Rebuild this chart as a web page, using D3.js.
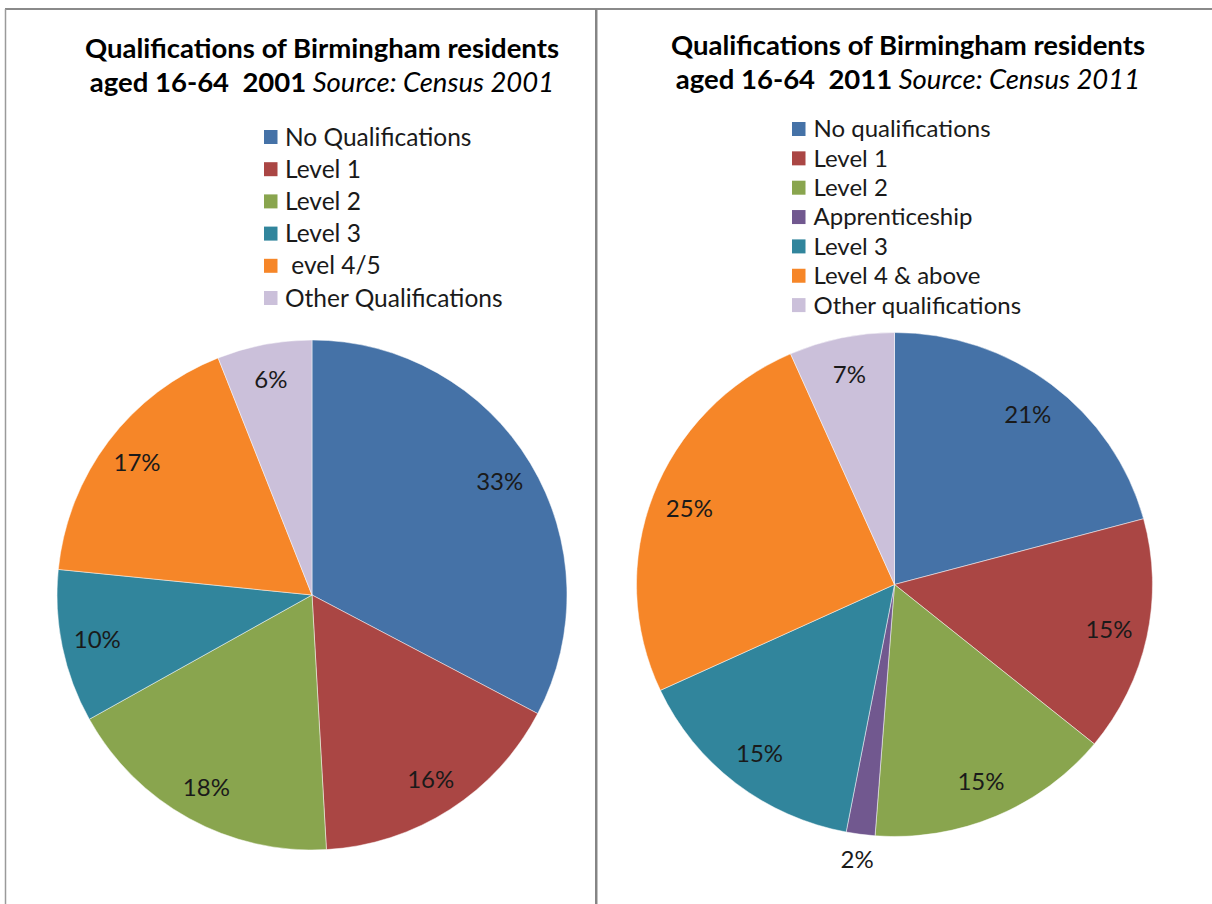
<!DOCTYPE html>
<html>
<head>
<meta charset="utf-8">
<script src="https://cdn.jsdelivr.net/npm/d3@7"></script>
<style>
  html, body { margin: 0; padding: 0; background: #fff; }
  svg { display: block; }
  text { font-family: Lato, "Noto Sans", sans-serif; }
</style>
</head>
<body>
<svg id="chart" width="1212" height="904"></svg>
<script>
// ---- Data ----
const categories2001 = ["No Qualifications", "Level 1", "Level 2", "Level 3", " evel 4/5", "Other Qualifications"];
const values2001 = [32.7, 16.4, 17.8, 9.7, 17.4, 6.0];
const colors2001 = ["#4572A7", "#AA4644", "#89A54E", "#31859C", "#F68628", "#CBC0DA"];

const categories2011 = ["No qualifications", "Level 1", "Level 2", "Apprenticeship", "Level 3", "Level 4 & above", "Other qualifications"];
const values2011 = [20.8, 15.1, 15.3, 1.8, 15.1, 25.3, 6.6];
const colors2011 = ["#4572A7", "#AA4644", "#89A54E", "#71588F", "#31859C", "#F68628", "#CBC0DA"];

const titleLine1 = "Qualifications of Birmingham residents";
const title2001Bold = "aged 16-64  2001";
const title2001Italic = " Source: Census 2001";
const title2011Bold = "aged 16-64  2011";
const title2011Italic = " Source: Census 2011";

// ---- Drawing ----
const svg = d3.select("#chart");

// frame lines
const frame = svg.append("g");
frame.append("line").attr("x1", 5).attr("x2", 1212).attr("y1", 9).attr("y2", 9)
  .attr("stroke", "#8a8a8a").attr("stroke-width", 2);
frame.append("line").attr("x1", 5.5).attr("x2", 5.5).attr("y1", 9).attr("y2", 904)
  .attr("stroke", "#9a9a9a").attr("stroke-width", 1.5);
frame.append("line").attr("x1", 596).attr("x2", 596).attr("y1", 9).attr("y2", 904)
  .attr("stroke", "#858585").attr("stroke-width", 2);
frame.append("line").attr("x1", 597.5).attr("x2", 597.5).attr("y1", 10).attr("y2", 904)
  .attr("stroke", "#c4c4c4").attr("stroke-width", 1);

function drawPanel(cfg) {
  const g = svg.append("g");

  // title
  const t = g.append("text").attr("text-anchor", "middle").attr("fill", "#000")
    .style("font-size", cfg.titleSize + "px").style("white-space", "pre");
  t.append("tspan").attr("x", cfg.titleX).attr("y", cfg.titleY1)
    .style("font-weight", "bold").text(titleLine1);
  const l2 = t.append("tspan").attr("x", cfg.titleX).attr("y", cfg.titleY2);
  l2.append("tspan").style("font-weight", "bold").text(cfg.bold);
  l2.append("tspan").style("font-style", "italic").text(cfg.italic);

  // legend
  const leg = g.append("g");
  const rows = leg.selectAll("g.row").data(cfg.categories).join("g")
    .attr("transform", (d, i) => `translate(${cfg.legX},${cfg.legY + i * cfg.legStep})`);
  rows.append("rect").attr("x", 0).attr("y", -7).attr("width", 13.5).attr("height", 14)
    .attr("fill", (d, i) => cfg.colors[i]);
  rows.append("text").attr("x", cfg.legTextDx).attr("y", 0).attr("dy", "0.35em")
    .style("font-size", cfg.legSize + "px").style("white-space", "pre").attr("fill", "#1a1a1a")
    .text(d => d);

  // pie
  const pie = d3.pie().sort(null).value(d => d)(cfg.values);
  const sx = cfg.rx / cfg.r;
  const arc = d3.arc().innerRadius(0).outerRadius(cfg.r);
  const pg = g.append("g").attr("transform", `translate(${cfg.cx},${cfg.cy}) scale(${sx},1)`);
  pg.selectAll("path").data(pie).join("path")
    .attr("d", arc)
    .attr("fill", (d, i) => cfg.colors[i])
    .attr("stroke", "#ffffff").attr("stroke-opacity", 0.6).attr("stroke-width", 0.8);

  // labels
  const lg = g.append("g").attr("transform", `translate(${cfg.cx},${cfg.cy})`);
  lg.selectAll("text").data(pie).join("text")
    .attr("x", d => {
      const a = (d.startAngle + d.endAngle) / 2;
      const f = d.value < 3 ? cfg.outFactor : cfg.inFactor;
      return Math.sin(a) * cfg.r * f * sx;
    })
    .attr("y", d => {
      const a = (d.startAngle + d.endAngle) / 2;
      const f = d.value < 3 ? cfg.outFactor : cfg.inFactor;
      return -Math.cos(a) * cfg.r * f;
    })
    .attr("dy", "0.35em")
    .attr("text-anchor", "middle")
    .style("font-size", cfg.labelSize + "px")
    .attr("fill", "#1a1a1a")
    .text(d => Math.round(d.value) + "%");
}

drawPanel({
  categories: categories2001, values: values2001, colors: colors2001,
  bold: title2001Bold, italic: title2001Italic,
  titleX: 322, titleY1: 58, titleY2: 92, titleSize: 27.5,
  legX: 264, legY: 137, legStep: 32.2, legTextDx: 21, legSize: 24.5,
  cx: 312, cy: 595, r: 255, rx: 255, inFactor: 0.86, outFactor: 1.1, labelSize: 24
});

drawPanel({
  categories: categories2011, values: values2011, colors: colors2011,
  bold: title2011Bold, italic: title2011Italic,
  titleX: 908, titleY1: 55, titleY2: 89, titleSize: 27.5,
  legX: 792, legY: 129, legStep: 29.35, legTextDx: 21.5, legSize: 24,
  cx: 894.5, cy: 584.5, r: 252, rx: 258, inFactor: 0.85, outFactor: 1.1, labelSize: 24
});
</script>
</body>
</html>
